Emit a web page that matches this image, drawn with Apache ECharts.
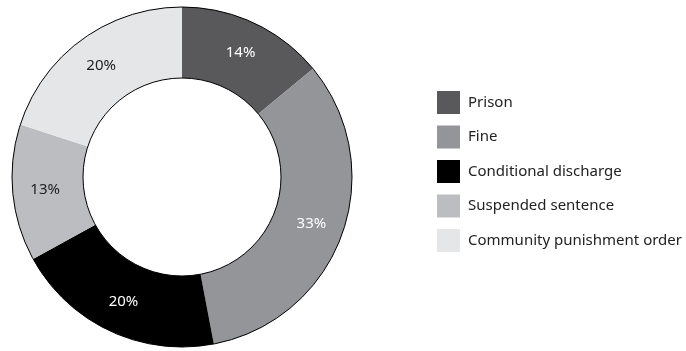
<!DOCTYPE html>
<html><head><meta charset="utf-8">
<script src="https://cdn.jsdelivr.net/npm/echarts@6/dist/echarts.min.js"></script>
<style>html,body{margin:0;padding:0;background:#fff}#c{width:686px;height:351px}</style>
</head><body><div id="c"></div>
<script>
const categories = ['Prison', 'Fine', 'Conditional discharge', 'Suspended sentence', 'Community punishment order'];
const values = [14, 33, 20, 13, 20];
const colors = ['#59595b', '#939598', '#000000', '#bcbdc0', '#e5e6e7'];
const labelColors = ['#ffffff', '#ffffff', '#ffffff', '#222222', '#222222'];

const chart = echarts.init(document.getElementById('c'), null, {renderer: 'canvas'});
const font = 'Noto Sans';
chart.setOption({
  animation: false,
  legend: {
    orient: 'vertical', left: 432, top: 86,
    itemWidth: 23, itemHeight: 23, itemGap: 11.5,
    icon: 'rect',
    textStyle: {fontFamily: font, fontSize: 15, color: '#222', padding: [0, 0, 0, 3]},
    data: categories
  },
  series: [{
    type: 'pie', center: [182, 177], radius: [99, 170],
    startAngle: 90, clockwise: true, silent: true,
    label: {position: 'inside', formatter: '{c}%', fontFamily: font, fontSize: 15},
    labelLine: {show: false},
    data: categories.map((n, i) => ({
      name: n, value: values[i],
      itemStyle: {color: colors[i]},
      label: {color: labelColors[i]}
    }))
  }, {
    type: 'pie', center: [182, 177], radius: [99, 170], silent: true,
    label: {show: false}, labelLine: {show: false},
    itemStyle: {color: 'rgba(0,0,0,0)', borderColor: '#000', borderWidth: 1},
    data: [{name: '__ring', value: 1}]
  }]
});
</script></body></html>
